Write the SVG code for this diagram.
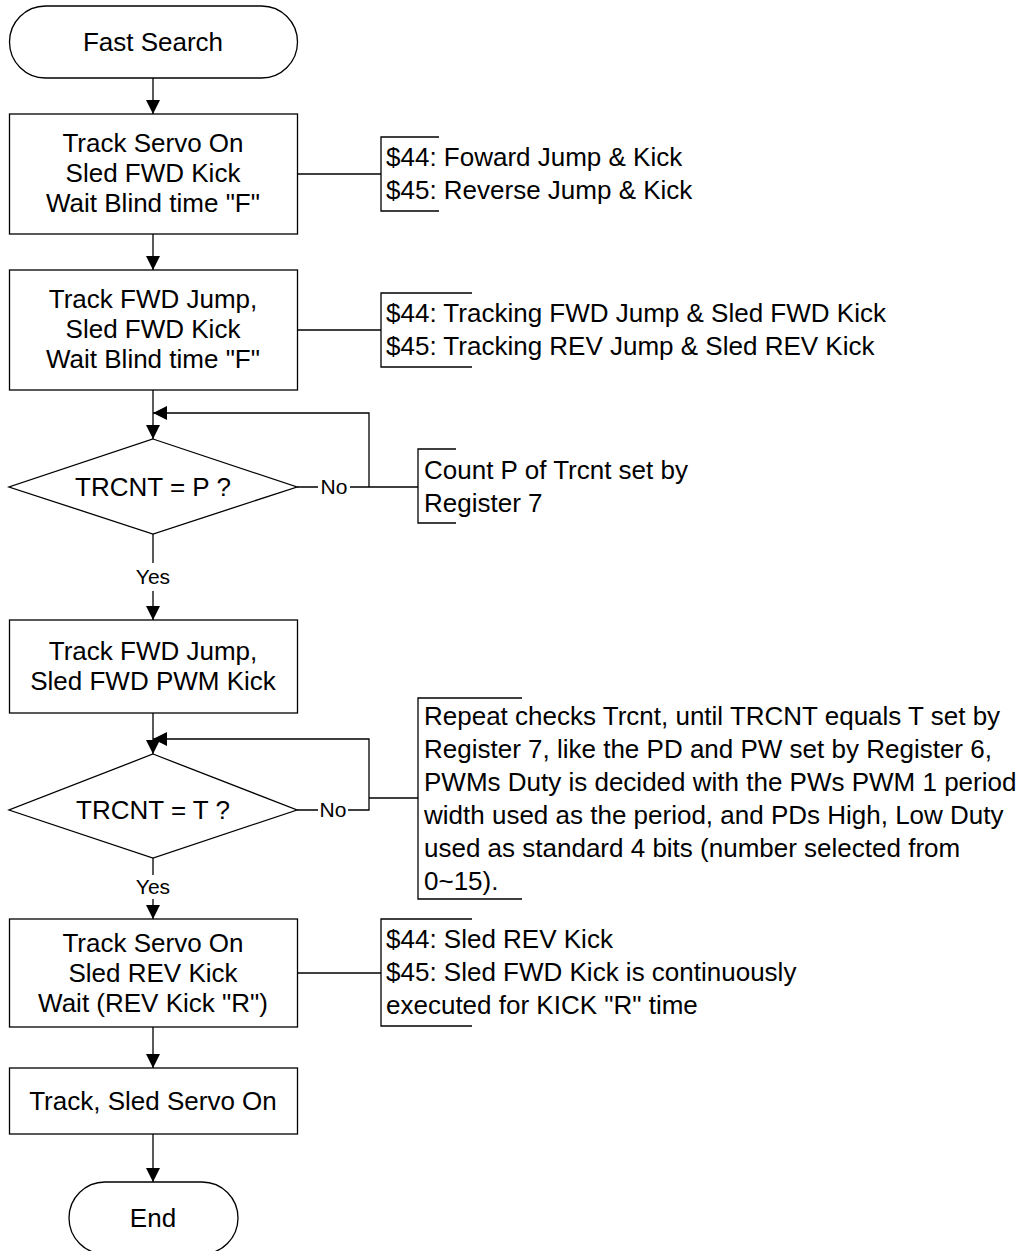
<svg xmlns="http://www.w3.org/2000/svg" width="1022" height="1251" viewBox="0 0 1022 1251">
<style>
.shape{fill:#fff;stroke:#000;stroke-width:1.3}
.ln{fill:none;stroke:#000;stroke-width:1.3}
.t{font-family:"Liberation Sans",Arial,sans-serif;font-size:26px;fill:#000}
.c{text-anchor:middle}
.s{font-family:"Liberation Sans",Arial,sans-serif;font-size:21px;fill:#000;text-anchor:middle}
</style>
<defs>
<marker id="ah" markerUnits="userSpaceOnUse" markerWidth="14" markerHeight="14" refX="14" refY="7" orient="auto" viewBox="0 0 14 14">
<path d="M0,0 L14,7 L0,14 z" fill="#000"/>
</marker>
</defs>
<rect width="1022" height="1251" fill="#fff"/>
<g id="connectors">
<path class="ln" d="M153,78 V114" marker-end="url(#ah)"/>
<path class="ln" d="M153,234 V270" marker-end="url(#ah)"/>
<path class="ln" d="M153,390 V439" marker-end="url(#ah)"/>
<path class="ln" d="M369,487 V413 H153" marker-end="url(#ah)"/>
<path class="ln" d="M297,487 H318 M350,487 H418"/>
<path class="ln" d="M153,534 V563"/>
<path class="ln" d="M153,591 V620" marker-end="url(#ah)"/>
<path class="ln" d="M153,713 V754" marker-end="url(#ah)"/>
<path class="ln" d="M348,810 H369 V739 H153" marker-end="url(#ah)"/>
<path class="ln" d="M297,810 H318 M369,798 H418"/>
<path class="ln" d="M153,858 V875"/>
<path class="ln" d="M153,899 V919" marker-end="url(#ah)"/>
<path class="ln" d="M153,1027 V1068" marker-end="url(#ah)"/>
<path class="ln" d="M153,1134 V1182" marker-end="url(#ah)"/>
<path class="ln" d="M298,174 H381"/>
<path class="ln" d="M298,330 H381"/>
<path class="ln" d="M297,973 H381"/>
<text class="s" x="334" y="494">No</text>
<text class="s" x="153" y="584">Yes</text>
<text class="s" x="333" y="817">No</text>
<text class="s" x="153" y="894">Yes</text>
</g>
<g id="start">
<rect class="shape" x="9.5" y="6" width="288" height="72" rx="36" ry="36"/>
<text class="t c" x="153" y="51">Fast Search</text>
</g>
<g id="box1">
<rect class="shape" x="9.5" y="114" width="288" height="120"/>
<text class="t c" x="153" y="152">Track Servo On</text>
<text class="t c" x="153" y="182">Sled FWD Kick</text>
<text class="t c" x="153" y="212">Wait Blind time "F"</text>
</g>
<g id="note1">
<path class="ln" d="M439,137 H381 V211 H439"/>
<text class="t" x="386" y="166">$44: Foward Jump &amp; Kick</text>
<text class="t" x="386" y="199">$45: Reverse Jump &amp; Kick</text>
</g>
<g id="box2">
<rect class="shape" x="9.5" y="270" width="288" height="120"/>
<text class="t c" x="153" y="308">Track FWD Jump,</text>
<text class="t c" x="153" y="338">Sled FWD Kick</text>
<text class="t c" x="153" y="368">Wait Blind time "F"</text>
</g>
<g id="note2">
<path class="ln" d="M472,293 H381 V367 H472"/>
<text class="t" x="386" y="322">$44: Tracking FWD Jump &amp; Sled FWD Kick</text>
<text class="t" x="386" y="355">$45: Tracking REV Jump &amp; Sled REV Kick</text>
</g>
<g id="decision1">
<polygon class="shape" points="153,439 297,487 153,534 9,487"/>
<text class="t c" x="153" y="496">TRCNT = P ?</text>
</g>
<g id="note3">
<path class="ln" d="M456,449 H418 V523 H456"/>
<text class="t" x="424" y="479">Count P of Trcnt set by</text>
<text class="t" x="424" y="512">Register 7</text>
</g>
<g id="box3">
<rect class="shape" x="9.5" y="620" width="288" height="93"/>
<text class="t c" x="153" y="660">Track FWD Jump,</text>
<text class="t c" x="153" y="690">Sled FWD PWM Kick</text>
</g>
<g id="decision2">
<polygon class="shape" points="153,754 297,810 153,858 9,810"/>
<text class="t c" x="153" y="819">TRCNT = T ?</text>
</g>
<g id="note4">
<path class="ln" d="M522,698 H418 V899 H522"/>
<text class="t" x="424" y="725">Repeat checks Trcnt, until TRCNT equals T set by</text>
<text class="t" x="424" y="758">Register 7, like the PD and PW set by Register 6,</text>
<text class="t" x="424" y="791">PWMs Duty is decided with the PWs PWM 1 period</text>
<text class="t" x="424" y="824">width used as the period, and PDs High, Low Duty</text>
<text class="t" x="424" y="857">used as standard 4 bits (number selected from</text>
<text class="t" x="424" y="890">0~15).</text>
</g>
<g id="box4">
<rect class="shape" x="9.5" y="919" width="288" height="108"/>
<text class="t c" x="153" y="952">Track Servo On</text>
<text class="t c" x="153" y="982">Sled REV Kick</text>
<text class="t c" x="153" y="1012">Wait (REV Kick "R")</text>
</g>
<g id="note5">
<path class="ln" d="M472,919 H381 V1026 H472"/>
<text class="t" x="386" y="948">$44: Sled REV Kick</text>
<text class="t" x="386" y="981">$45: Sled FWD Kick is continuously</text>
<text class="t" x="386" y="1014">executed for KICK "R" time</text>
</g>
<g id="box5">
<rect class="shape" x="9.5" y="1068" width="288" height="66"/>
<text class="t c" x="153" y="1110">Track, Sled Servo On</text>
</g>
<g id="end">
<rect class="shape" x="69" y="1182" width="169" height="72" rx="36" ry="36"/>
<text class="t c" x="153" y="1227">End</text>
</g>
</svg>
